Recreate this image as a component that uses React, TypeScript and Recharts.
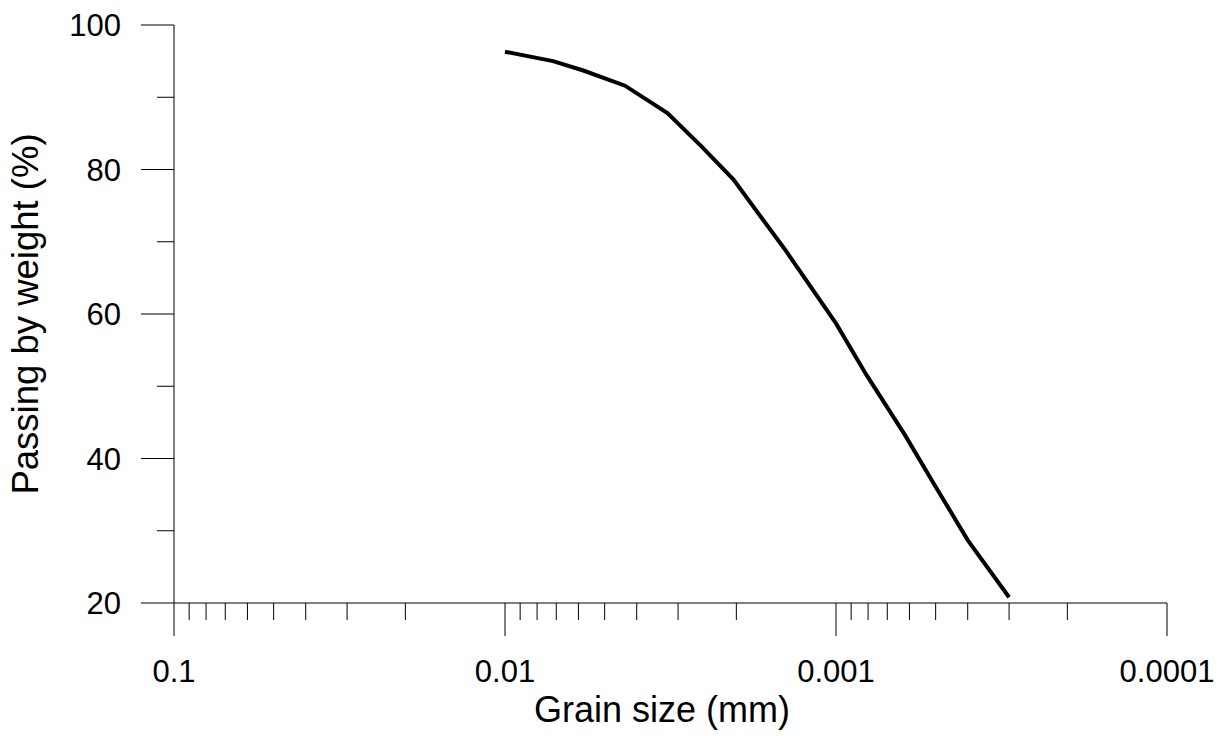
import { LineChart, Line, XAxis, YAxis, Label } from "recharts";

// grain size (mm) vs passing (%)
const grainSize = [0.01, 0.00716, 0.0058, 0.00434, 0.00323, 0.00255, 0.00204, 0.00143, 0.001, 0.00081, 0.00062, 0.0005, 0.0004, 0.0003];
const passing = [96.3, 95.0, 93.7, 91.6, 87.8, 83.2, 78.6, 69.0, 58.7, 51.6, 43.3, 36.1, 28.7, 20.8];

const majorX = [0.1, 0.01, 0.001, 0.0001];
const minorX = [
  0.09, 0.08, 0.07, 0.06, 0.05, 0.04, 0.03, 0.02,
  0.009, 0.008, 0.007, 0.006, 0.005, 0.004, 0.003, 0.002,
  0.0009, 0.0008, 0.0007, 0.0006, 0.0005, 0.0004, 0.0003, 0.0002,
];
const majorY = [20, 40, 60, 80, 100];
const minorY = [30, 50, 70, 90];

const data = grainSize.map((size, i) => ({ size, pass: passing[i] }));

const FONT = "'Liberation Sans', Arial, sans-serif";

function XTick(props: any) {
  const { x, y, payload } = props;
  const major = majorX.includes(payload.value);
  return (
    <g>
      <line x1={x} x2={x} y1={y} y2={y + (major ? 33 : 17)} stroke="#000" strokeWidth={1} />
      {major && (
        <text x={x} y={y + 79} textAnchor="middle" fontSize={31} fill="#000" fontFamily={FONT}>
          {String(payload.value)}
        </text>
      )}
    </g>
  );
}

function YTick(props: any) {
  const { x, y, payload } = props;
  const major = majorY.includes(payload.value);
  return (
    <g>
      <line x1={x} x2={x - (major ? 33 : 17)} y1={y} y2={y} stroke="#000" strokeWidth={1} />
      {major && (
        <text x={x - 53} y={y + 11} textAnchor="end" fontSize={31} fill="#000" fontFamily={FONT}>
          {payload.value}
        </text>
      )}
    </g>
  );
}

export default function App() {
  return (
    <div style={{ position: "absolute", left: 0, top: 0, fontFamily: FONT }}>
      <LineChart width={1226} height={736} data={data} margin={{ top: 25, right: 59, bottom: 0, left: 0 }}>
        <XAxis
          dataKey="size"
          type="number"
          scale="log"
          domain={[0.0001, 0.1]}
          reversed
          allowDataOverflow
          ticks={[...majorX, ...minorX]}
          interval={0}
          tickSize={0}
          tickMargin={0}
          tickLine={false}
          tick={<XTick />}
          axisLine={{ stroke: "#000", strokeWidth: 1 }}
          height={133}
        >
          <Label
            content={() => (
              <text x={662} y={722} textAnchor="middle" fontSize={36} fill="#000" fontFamily={FONT}>
                Grain size (mm)
              </text>
            )}
          />
        </XAxis>
        <YAxis
          type="number"
          domain={[20, 100]}
          ticks={[...majorY, ...minorY]}
          interval={0}
          tickSize={0}
          tickMargin={0}
          tickLine={false}
          tick={<YTick />}
          axisLine={{ stroke: "#000", strokeWidth: 1 }}
          width={174}
        >
          <Label
            content={() => (
              <text
                x={38}
                y={314}
                transform="rotate(-90, 38, 314)"
                textAnchor="middle"
                fontSize={36.5}
                fill="#000"
                fontFamily={FONT}
              >
                Passing by weight (%)
              </text>
            )}
          />
        </YAxis>
        <Line
          dataKey="pass"
          type="linear"
          stroke="#000"
          strokeWidth={4}
          dot={false}
          isAnimationActive={false}
        />
      </LineChart>
    </div>
  );
}
